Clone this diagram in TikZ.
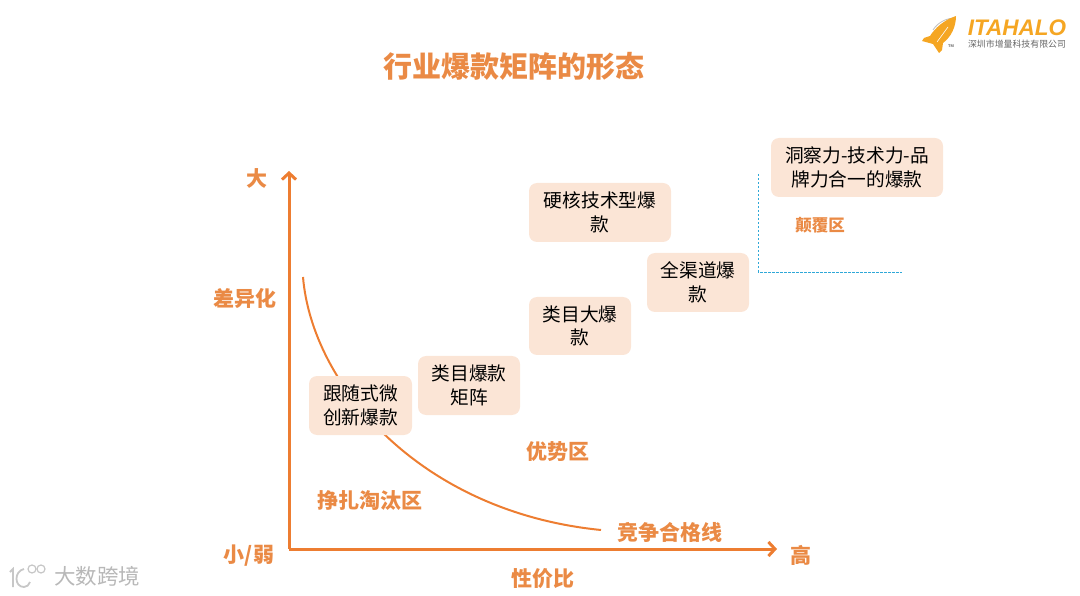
\documentclass[tikz,border=0pt]{standalone}
\usepackage{fontspec}
\setmainfont{Noto Sans CJK SC}
\newfontfamily\logofont{Liberation Sans}
\usetikzlibrary{arrows.meta}
\definecolor{axisorange}{HTML}{ED7D31}
\definecolor{labelorange}{HTML}{EA8A45}
\definecolor{boxfill}{HTML}{FBE5D6}
\definecolor{logoyellow}{HTML}{F5A623}
\definecolor{dashblue}{HTML}{2FA8D8}
\tikzset{
  kind/.style={fill=boxfill, rounded corners=8pt, align=center, inner sep=0pt,
    text=black, font=\fontsize{18.7}{23.5}\selectfont},
  zone/.style={text=labelorange, font=\fontsize{21}{24}\selectfont\bfseries, inner sep=0pt},
  axisline/.style={draw=axisorange, line width=3pt, -{Straight Barb[length=6.5pt,width=14pt]}},
  wmarkline/.style={draw=black!22, line width=1.8pt},
}
\begin{document}
\begin{tikzpicture}[x=1pt,y=-1pt]
  \useasboundingbox (0,0) rectangle (1080,596);
  \node[text=labelorange, font=\fontsize{29}{32}\selectfont\bfseries, inner sep=0pt] (title) at (514,66) {行业爆款矩阵的形态};

  % axes
  \coordinate (origin) at (289,549);
  \coordinate (ytip) at (289,171);
  \coordinate (xtip) at (777,549);
  \draw[axisline] (origin) -- (ytip);
  \draw[axisline] (origin) -- (xtip);

  % qualifying line, under the boxes
  \coordinate (curveA) at (303,277);
  \coordinate (curveB) at (601,530);
  \draw[axisorange, line width=2pt] (curveA) .. controls (312,385) and (420,512) .. (curveB);

  % disruption zone
  \coordinate (dashA) at (758,174);
  \coordinate (dashB) at (758,272);
  \coordinate (dashC) at (902,272);
  \draw[dashblue, line width=0.9pt, dash pattern=on 2.5pt off 1.5pt] (dashA) -- (dashB) -- (dashC);

  \node[kind, minimum width=172pt, minimum height=59pt] (insight) at (857,167.5) {洞察力-技术力-品\\牌力合一的爆款};
  \node[kind, minimum width=142pt, minimum height=59pt] (hardcore) at (600,212.5) {硬核技术型爆\\款};
  \node[kind, minimum width=102pt, minimum height=59pt] (channel) at (698,282.5) {全渠道爆\\款};
  \node[kind, minimum width=102pt, minimum height=58pt] (bigcat) at (580,326) {类目大爆\\款};
  \node[kind, minimum width=102pt, minimum height=59pt] (catmatrix) at (469,385.5) {类目爆款\\矩阵};
  \node[kind, minimum width=103pt, minimum height=59pt] (follower) at (360.5,405.5) {跟随式微\\创新爆款};

  \node[zone] (ymax) at (257,178) {大};
  \node[zone] (ylabel) at (245,298) {差异化};
  \node[zone] (small) at (249,556) {小/弱};
  \node[zone] (xmax) at (801,555) {高};
  \node[zone] (xlabel) at (543,579) {性价比};
  \node[zone] (struggle) at (370,501) {挣扎淘汰区};
  \node[zone] (advantage) at (558,452) {优势区};
  \node[zone] (qualify) at (670,532) {竞争合格线};
  \node[zone, font=\fontsize{16.5}{20}\selectfont\bfseries] (disrupt) at (820,225) {颠覆区};

  % logo
  \draw[black!25, line width=0.8pt] (933,30) .. controls (938,22) and (947,18) .. (955,18);
  \fill[logoyellow] (956,16) .. controls (944,20) and (935,28) .. (930,36) -- (924,38) -- (922,41) -- (933,44) -- (939,53) -- (942,50) -- (943,43) .. controls (951,37) and (956,27) .. (956,16) -- cycle;
  \draw[white, line width=0.6pt] (948,27) -- (937,42);
  \node[text=logoyellow, font=\logofont\fontsize{22.5}{24}\selectfont\bfseries\itshape, inner sep=0pt] (brand) at (1017,28) {ITAHALO};
  \node[text=black!60, font=\fontsize{8.9}{10}\selectfont, inner sep=0pt] (company) at (1017,44.5) {深圳市增量科技有限公司};
  \node[text=black!60, font=\logofont\fontsize{4}{5}\selectfont\bfseries, inner sep=0pt] (tm) at (951,46) {TM};

  % watermark
  \node[text=black!28, font=\fontsize{21.5}{24}\selectfont, inner sep=0pt] (wmark) at (97,576) {大数跨境};
  \draw[wmarkline] (10,572) -- (13,569) -- (13,587);
  \draw[wmarkline] (24,569) .. controls (14,571) and (14,587) .. (24,587) .. controls (27,587) and (29,585) .. (30,582);
  \draw[black!22, line width=1.2pt] (32,569) circle (4pt);
  \draw[black!22, line width=1.2pt] (41,569) circle (4pt);
\end{tikzpicture}
\end{document}
